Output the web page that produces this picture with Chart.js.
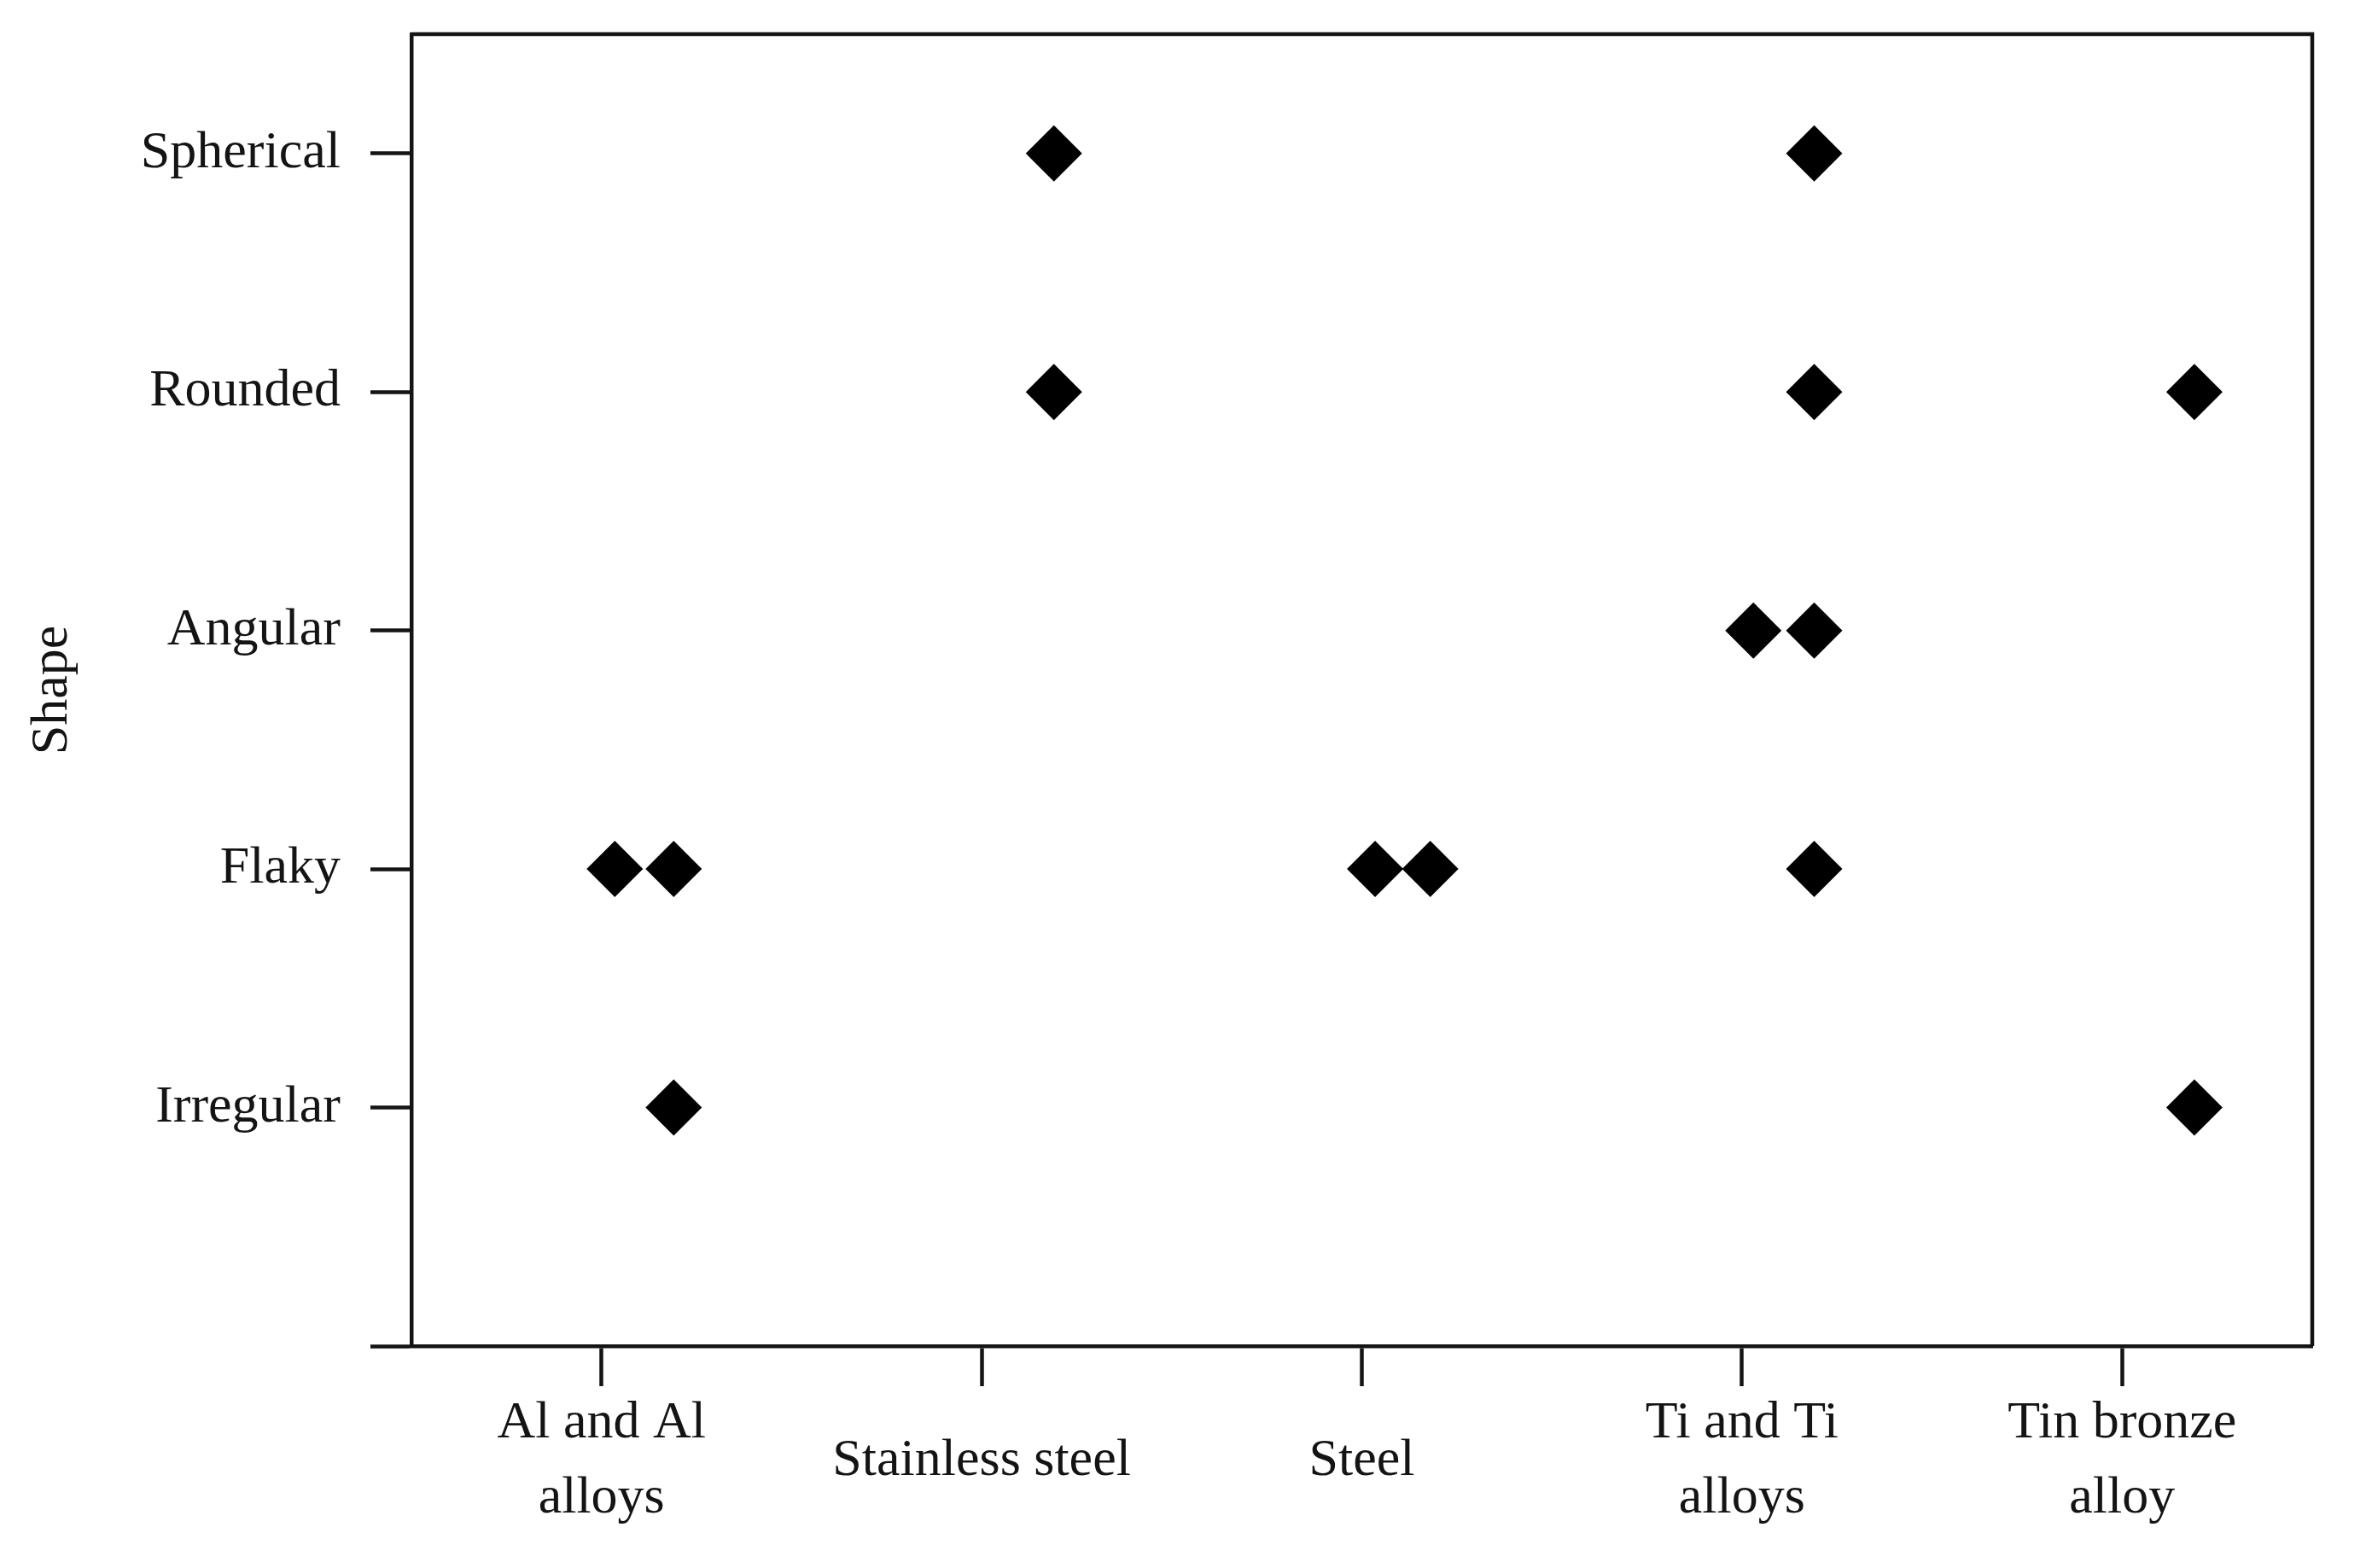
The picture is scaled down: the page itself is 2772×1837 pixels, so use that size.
<!DOCTYPE html>
<html>
<head>
<meta charset="utf-8">
<script src="https://cdn.jsdelivr.net/npm/chart.js@4.4.1/dist/chart.umd.min.js"></script>
<style>
  html, body { margin:0; padding:0; background:#fff; }
  #wrap { width:2772px; height:1837px; position:relative; }
</style>
</head>
<body>
<div id="wrap"><canvas id="chart-shape"></canvas></div>
<script>
// categories
const materials = [['Al and Al', 'alloys'], 'Stainless steel', 'Steel', ['Ti and Ti', 'alloys'], ['Tin bronze', 'alloy']];
const shapes = ['Irregular', 'Flaky', 'Angular', 'Rounded', 'Spherical'];

// points: x = material index (1..5, small offsets as plotted), y = shape index (1..5)
const pointX = [1.035, 1.19, 1.19, 2.19, 2.19, 3.035, 3.18, 4.19, 4.19, 4.03, 4.19, 4.19, 5.19, 5.19];
const pointY = [2,     2,    1,    5,    4,    2,     2,    5,    4,    3,    3,    2,    4,    1];

const FONT = "'Liberation Serif', 'Times New Roman', serif";
const INK = '#141414';
const LW = 4.5;

const boxPlugin = {
  id: 'boxPlugin',
  afterDraw(chart) {
    const { ctx, chartArea: a } = chart;
    ctx.save();
    ctx.strokeStyle = INK;
    ctx.lineWidth = LW;
    ctx.beginPath();
    ctx.moveTo(a.left, a.top);
    ctx.lineTo(a.right, a.top);
    ctx.lineTo(a.right, a.bottom);
    ctx.stroke();
    ctx.restore();
  }
};

new Chart(document.getElementById('chart-shape'), {
  type: 'scatter',
  data: {
    datasets: [{
      label: 'Shape',
      data: pointX.map((x, i) => ({ x, y: pointY[i] })),
      pointStyle: 'rectRot',
      pointRadius: 33,
      pointHoverRadius: 33,
      backgroundColor: '#000',
      borderWidth: 0
    }]
  },
  options: {
    responsive: true, maintainAspectRatio: false,
    animation: false,
    layout: { padding: { top: 40, right: 63, left: 0, bottom: 0 } },
    plugins: { legend: { display: false }, tooltip: { enabled: false } },
    scales: {
      x: {
        type: 'linear', min: 0.5, max: 5.5,
        afterBuildTicks: s => { s.ticks = materials.map((m, i) => ({ value: i + 1 })); },
        afterFit: s => { s.height = 260; s.paddingLeft = 0; s.paddingRight = 0; },
        grid: { drawOnChartArea: false, drawTicks: true, tickLength: 47, tickWidth: LW, tickColor: INK },
        border: { display: true, color: INK, width: LW },
        ticks: {
          color: INK, padding: 44, maxRotation: 0, autoSkip: false,
          crossAlign: 'center',
          font: { family: FONT, size: 62, lineHeight: 1.42 },
          callback: v => materials[v - 1]
        }
      },
      y: {
        type: 'linear', min: 0, max: 5.5,
        afterBuildTicks: s => { s.ticks = [0, 1, 2, 3, 4, 5].map(v => ({ value: v })); },
        afterFit: s => { s.width = 482; s.paddingTop = 0; s.paddingBottom = 0; },
        grid: { drawOnChartArea: false, drawTicks: true, tickLength: 48, tickWidth: LW, tickColor: INK },
        border: { display: true, color: INK, width: LW },
        title: {
          display: true, text: 'Shape', color: INK,
          padding: { top: 25, bottom: 0 },
          font: { family: FONT, size: 62 }
        },
        ticks: {
          color: INK, padding: 35, autoSkip: false,
          font: { family: FONT, size: 62 },
          callback: v => v >= 1 ? shapes[v - 1] : ''
        }
      }
    }
  },
  plugins: [boxPlugin]
});
</script>
</body>
</html>
